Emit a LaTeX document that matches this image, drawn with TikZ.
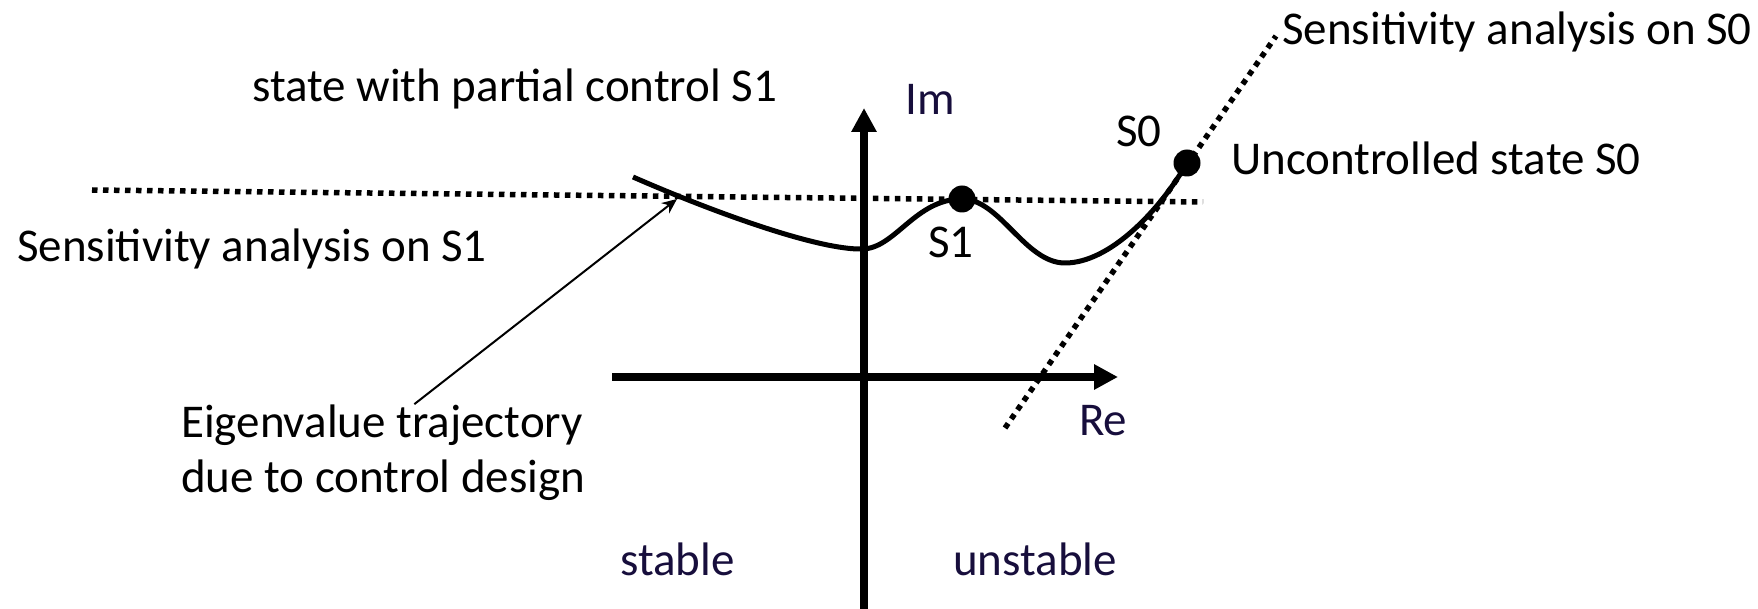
\documentclass[tikz,border=0pt]{standalone}
\usepackage{fontspec}
\setmainfont{Carlito}
\usetikzlibrary{arrows.meta}
\definecolor{navy}{RGB}{23,14,60}
\begin{document}
\begin{tikzpicture}[x=1pt,y=-1pt,
  lbl/.style={inner sep=0pt, font=\fontsize{47}{55}\selectfont, anchor=base west},
  navylbl/.style={lbl, text=navy},
  axis/.style={line width=8.5pt, -{Triangle[length=24pt,width=24pt]}},
  dotline/.style={line width=5.5pt, dash pattern=on 5.5pt off 5.5pt},
  traj/.style={line width=5pt, line join=round},
  pt/.style={circle, fill=black, inner sep=0pt, minimum size=27pt},
  pointer/.style={line width=2pt, -{Stealth[length=15pt,width=13pt]}}
]
\useasboundingbox (0,0) rectangle (1758,609);
% axes
\coordinate (vb) at (864,609);
\coordinate (vt) at (864,108);
\coordinate (hl) at (612,377);
\coordinate (hr) at (1118,377);
\draw[axis] (vb) -- (vt);
\draw[axis] (hl) -- (hr);
% dotted sensitivity lines
\coordinate (d1a) at (92,190);
\coordinate (d1b) at (1203,202);
\draw[dotline] (d1a) -- (d1b);
\coordinate (d0a) at (1005,428);
\coordinate (d0b) at (1276,36);
\draw[dotline] (d0a) -- (d0b);
% points
\node[pt] (s1) at (962,199) {};
\node[pt] (s0) at (1187,163) {};
% trajectory
\coordinate (tstart) at (633,177);
\coordinate (tmin1) at (862,249);
\coordinate (tmin2) at (1065,263);
\draw[traj] (tstart) .. controls (720,215) and (820,250) .. (tmin1)
  .. controls (895,249) and (915,199) .. (s1.center)
  .. controls (1000,199) and (1025,263) .. (tmin2)
  .. controls (1110,263) and (1160,210) .. (s0.center);
% labels
\node[navylbl] (im) at (905,115) {Im};
\node[navylbl] (re) at (1079,435) {Re};
\node[navylbl] (stable) at (620,575) {stable};
\node[navylbl] (unstable) at (953,575) {unstable};
\node[lbl] (s0lbl) at (1116,147) {S0};
\node[lbl] (s1lbl) at (928,258) {S1};
\node[lbl] (unc) at (1231,175) {Uncontrolled state S0};
\node[lbl] (sens0) at (1282,45) {Sensitivity analysis on S0};
\node[lbl] (sens1) at (17,262) {Sensitivity analysis on S1};
\node[lbl] (partial) at (252,102) {state with partial control S1};
\node[lbl, align=left] (eig) at (181,492) {Eigenvalue trajectory\\due to control design};
% pointer arrow
\coordinate (cross) at (677,199);
\draw[pointer] ([xshift=31pt]eig.north) -- (cross);
\end{tikzpicture}
\end{document}
